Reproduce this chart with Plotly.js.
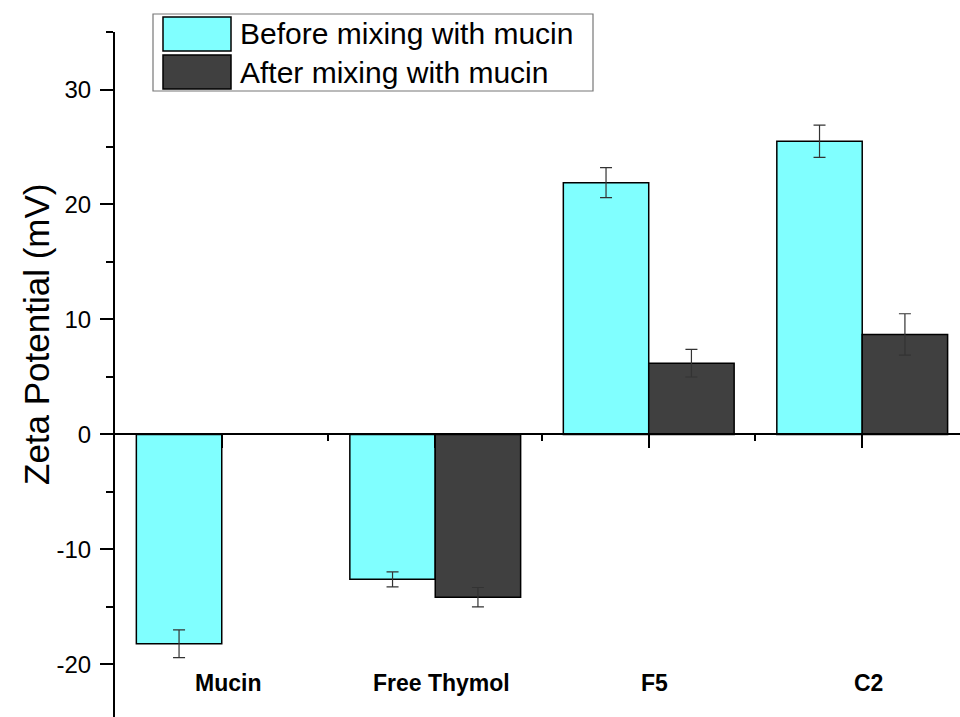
<!DOCTYPE html>
<html>
<head>
<meta charset="utf-8">
<script src="https://cdn.plot.ly/plotly-3.0.1.min.js"></script>
<style>
html,body{margin:0;padding:0;overflow:hidden;background:#fff;}
#chart{width:960px;height:717px;}
</style>
</head>
<body>
<div id="chart"></div>
<script>
// ---- data ----
const categories = ["Mucin", "Free Thymol", "F5", "C2"];
const categoryPositions = [1, 2, 3, 4];
const seriesNames = ["Before mixing with mucin", "After mixing with mucin"];
const beforeValues = [-18.2, -12.6, 21.9, 25.5];
const beforeErrors = [1.2, 0.65, 1.3, 1.4];
const afterValues = [null, -14.15, 6.2, 8.7];
const afterErrors = [null, 0.84, 1.2, 1.8];
const yTickValues = [-20, -10, 0, 10, 20, 30];
const yTickLabels = ["-20", "-10", "0", "10", "20", "30"];

// ---- layout geometry ----
const W = 960, H = 717;
const M = {l: 115, r: 0, t: 32, b: 0};
const yRange = [-24.57, 35.001];
const xRange = [0.5, 4.458];
const plotW = W - M.l - M.r, plotH = H - M.t - M.b;
const px = x => (x - M.l) / plotW;   // pixel -> paper x
const py = y => (H - M.b - y) / plotH; // pixel -> paper y

const cyan = "#80ffff";
const dark = "#404040";
const font = "Liberation Sans, Arial, Helvetica, sans-serif";

const traces = [
  {
    type: "bar", name: seriesNames[0], x: categoryPositions, y: beforeValues,
    marker: {color: cyan, line: {color: "#000", width: 1.5}},
    error_y: {type: "data", array: beforeErrors, visible: true, color: "#333", thickness: 1.2, width: 6},
    showlegend: false
  },
  {
    type: "bar", name: seriesNames[1], x: categoryPositions, y: afterValues,
    marker: {color: dark, line: {color: "#000", width: 1.5}},
    error_y: {type: "data", array: afterErrors, visible: true, color: "#333", thickness: 1.2, width: 6},
    showlegend: false
  }
];

const shapes = [];
const annotations = [];

// category labels
categories.forEach((c, i) => {
  annotations.push({
    x: categoryPositions[i], y: -21.6, xref: "x", yref: "y",
    text: "<b>" + c + "</b>", showarrow: false, xshift: 6,
    font: {family: font, size: 23, color: "#000"},
    xanchor: "center", yanchor: "middle"
  });
});

// y axis title
annotations.push({
  xref: "paper", yref: "paper", x: px(36), y: py(334),
  text: "Zeta Potential (mV)", textangle: -90, showarrow: false,
  xanchor: "center", yanchor: "middle",
  font: {family: font, size: 35, color: "#000"}
});

// custom legend
shapes.push({type: "rect", xref: "paper", yref: "paper",
  x0: px(153), x1: px(593), y0: py(91), y1: py(14),
  line: {color: "#777", width: 1.2}, fillcolor: "#fff", layer: "above"});
const swatchColors = [cyan, dark];
const rowTops = [17, 55];
seriesNames.forEach((n, i) => {
  shapes.push({type: "rect", xref: "paper", yref: "paper",
    x0: px(163), x1: px(231), y0: py(rowTops[i] + 34), y1: py(rowTops[i]),
    line: {color: "#000", width: 1.5}, fillcolor: swatchColors[i], layer: "above"});
  annotations.push({
    xref: "paper", yref: "paper", x: px(238), y: py(rowTops[i] + 17),
    text: n, showarrow: false, xanchor: "left", yanchor: "middle",
    font: {family: font, size: 30, color: "#000"}
  });
});

const layout = {
  width: W, height: H,
  margin: M,
  paper_bgcolor: "#fff", plot_bgcolor: "#fff",
  barmode: "group", bargap: 0.2, bargroupgap: 0,
  showlegend: false,
  font: {family: font, color: "#000"},
  xaxis: {
    range: xRange, anchor: "free",
    position: (0 - yRange[0]) / (yRange[1] - yRange[0]),
    tickmode: "array", tickvals: categoryPositions, ticktext: categories,
    showticklabels: false,
    showline: true, linecolor: "#000", linewidth: 2,
    ticks: "outside", ticklen: 13, tickwidth: 2, tickcolor: "#000",
    minor: {tickmode: "array", tickvals: [1.5, 2.5, 3.5], ticks: "outside", ticklen: 6, tickwidth: 2, tickcolor: "#000"},
    showgrid: false, zeroline: false, fixedrange: true
  },
  yaxis: {
    range: yRange,
    tickmode: "array", tickvals: yTickValues, ticktext: yTickLabels,
    showline: true, linecolor: "#000", linewidth: 2,
    ticks: "outside", ticklen: 13, tickwidth: 2, tickcolor: "#000",
    minor: {tickmode: "linear", tick0: 5, dtick: 10, ticks: "outside", ticklen: 7, tickwidth: 2, tickcolor: "#000"},
    tickfont: {family: font, size: 24, color: "#000"},
    ticklabelstandoff: 4,
    showgrid: false, zeroline: false,
    fixedrange: true
  },
  shapes: shapes,
  annotations: annotations
};

Plotly.newPlot("chart", traces, layout, {displayModeBar: false, staticPlot: true});
</script>
</body>
</html>
